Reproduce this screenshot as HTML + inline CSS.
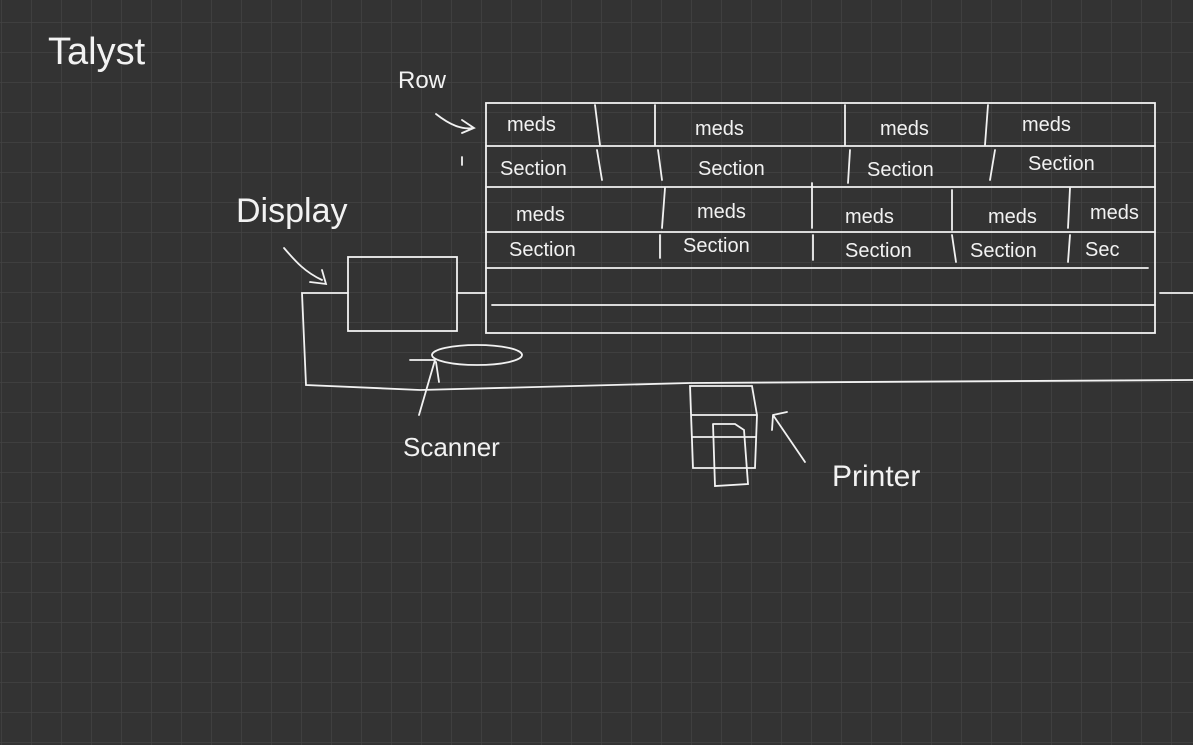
<!DOCTYPE html>
<html><head><meta charset="utf-8"><style>
html,body{margin:0;padding:0;background:#333333;}
svg{display:block}
text{font-family:"Liberation Sans",sans-serif;fill:#f2f2f2;}
</style></head><body>
<svg width="1193" height="745" viewBox="0 0 1193 745" xmlns="http://www.w3.org/2000/svg">
<defs><pattern id="g" x="1" y="22" width="30" height="30" patternUnits="userSpaceOnUse">
<path d="M0 0H30M0 0V30" stroke="#434343" stroke-width="1.5" fill="none"/></pattern></defs>
<rect width="1193" height="745" fill="#333333"/>
<rect width="1193" height="745" fill="url(#g)"/>
<g stroke="#f2f2f2" stroke-width="1.8" fill="none" stroke-linecap="round">
<!-- table -->
<rect x="486" y="103" width="669" height="230"/>
<path d="M486 146H1155M486 187H1155M486 232H1155M486 268H1148M492 305H1155"/>
<path d="M595 105L600 145M655 105L655 145M845 105L845 145M988 105L985 145"/>
<path d="M597 150L602 180M658 150L662 180M850 150L848 183M995 150L990 180"/>
<path d="M665 188L662 228M812 183L812 228M952 190L952 230M1070 188L1068 228"/>
<path d="M660 235L660 258M813 235L813 260M952 235L956 262M1070 235L1068 262"/>
<path d="M1160 293H1193"/>
<!-- display -->
<rect x="348" y="257" width="109" height="74"/>
<path d="M457 293H486M348 293H302L306 385L420 390L690 383L1193 380"/>
<!-- arrows -->
<path d="M436 114C450 125 462 130 474 128M462 120L474 128L462 133"/>
<path d="M284 248C296 262 305 272 322 280M310 282L326 284L322 270"/>
<path d="M773 415L805 462M773 415L787 412M773 415L772 430"/>
<!-- scanner -->
<ellipse cx="477" cy="355" rx="45" ry="10"/>
<path d="M410 360H435L419 415M436 362L439 382"/>
<!-- printer -->
<path d="M690 386H752L757 415L755 468H693L690 386ZM692 415H757M692 437H756"/>
<path d="M713 424L715 486L748 484L744 430L735 424H713"/>
<path d="M462 157V165"/>
</g>
<g font-size="30" font-weight="300">
<text x="48" y="64" font-size="38">Talyst</text>
<text x="398" y="88" font-size="24">Row</text>
<text x="236" y="222" font-size="34">Display</text>
<text x="403" y="456" font-size="26">Scanner</text>
<text x="832" y="486" font-size="30">Printer</text>
</g>
<g font-size="20">
<text x="507" y="131">meds</text><text x="695" y="135">meds</text><text x="880" y="135">meds</text><text x="1022" y="131">meds</text>
<text x="500" y="175">Section</text><text x="698" y="175">Section</text><text x="867" y="176">Section</text><text x="1028" y="170">Section</text>
<text x="516" y="221">meds</text><text x="697" y="218">meds</text><text x="845" y="223">meds</text><text x="988" y="223">meds</text><text x="1090" y="219">meds</text>
<text x="509" y="256">Section</text><text x="683" y="252">Section</text><text x="845" y="257">Section</text><text x="970" y="257">Section</text><text x="1085" y="256">Sec</text>
</g>
</svg>
</body></html>
